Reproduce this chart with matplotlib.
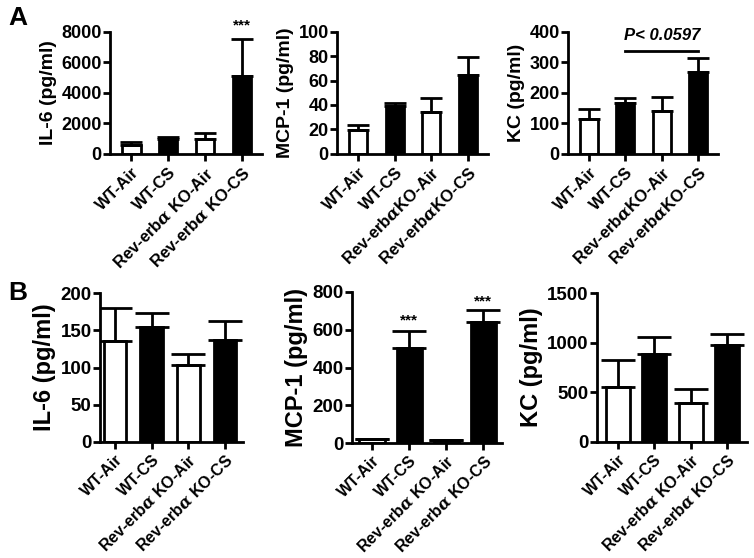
import matplotlib
matplotlib.use("Agg")
import matplotlib.pyplot as plt
import numpy as np

plt.rcParams['font.family'] = ['Liberation Sans', 'DejaVu Sans']
plt.rcParams['font.weight'] = 'bold'
plt.rcParams['mathtext.fontset'] = 'dejavuserif'

# ---------------- data ----------------
groups_a1 = ["WT-Air", "WT-CS", r"Rev-erb$\alpha$ KO-Air", r"Rev-erb$\alpha$ KO-CS"]
groups_a23 = ["WT-Air", "WT-CS", r"Rev-erb$\alpha$KO-Air", r"Rev-erb$\alpha$KO-CS"]
groups_b = ["WT-Air", "WT-CS", r"Rev-erb$\alpha$ KO-Air", r"Rev-erb$\alpha$ KO-CS"]
bar_fill = ["white", "black", "white", "black"]

a_il6 = [570, 950, 970, 5100]
a_il6_err = [190, 110, 360, 2440]
a_mcp1 = [19.4, 38.9, 33.9, 64.4]
a_mcp1_err = [3.9, 2.8, 11.6, 15.3]
a_kc = [115, 167, 139, 269]
a_kc_err = [33, 17, 46, 44]

b_il6 = [135, 154.5, 104, 136.6]
b_il6_err = [45, 19, 13.5, 26]
b_mcp1 = [21, 501, 16, 640]
b_mcp1_err = [2, 92, 2, 65]
b_kc = [556, 887, 395, 975]
b_kc_err = [268, 171, 140, 117]

# ---------------- layout ----------------
W, H = 754, 558
fig = plt.figure(figsize=(W / 100, H / 100), dpi=100)


def px_axes(l, r, t, b):
    return fig.add_axes([l / W, 1 - b / H, (r - l) / W, (b - t) / H])


def draw(ax, labels, vals, errs, ylim, yticks, ylabel, xlim, width, cap,
         ylab_size, tick_size, xlab_size, xpad, stars=None):
    x = np.arange(len(vals))
    ax.bar(x, vals, width=width, color=bar_fill, edgecolor="black", linewidth=2.0, zorder=2)
    ax.errorbar(x, vals, yerr=[np.zeros(len(errs)), errs], fmt="none", ecolor="black",
                elinewidth=2.0, capsize=cap, capthick=2.0, zorder=3)
    ax.set_xlim(*xlim)
    ax.set_ylim(*ylim)
    ax.set_yticks(yticks)
    ax.set_xticks(x)
    ax.set_xticklabels(labels, rotation=45, ha="right", rotation_mode="anchor",
                       fontsize=xlab_size, fontweight="bold")
    ax.tick_params(axis="y", labelsize=tick_size, width=2, length=5, direction="out", pad=1)
    ax.tick_params(axis="x", width=2, length=5, direction="out", pad=xpad)
    for lbl in ax.get_yticklabels():
        lbl.set_fontweight("bold")
    for s in ["top", "right"]:
        ax.spines[s].set_visible(False)
    for s in ["left", "bottom"]:
        ax.spines[s].set_linewidth(2.0)
    ax.set_ylabel(ylabel, fontsize=ylab_size, fontweight="bold", labelpad=3)
    if stars:
        for i, yv in stars:
            ax.text(i, yv, "***", ha="center", va="center", fontsize=11,
                    fontweight="bold", clip_on=False)


ax1 = px_axes(110, 262, 32, 153.5)
draw(ax1, groups_a1, a_il6, a_il6_err, (0, 8000), [0, 2000, 4000, 6000, 8000],
     "IL-6 (pg/ml)", (-0.58, 3.55), 0.5, 8, 14, 13, 12, 3, stars=[(3, 8450)])

ax2 = px_axes(337, 488, 32, 153.5)
draw(ax2, groups_a23, a_mcp1, a_mcp1_err, (0, 100), [0, 20, 40, 60, 80, 100],
     "MCP-1 (pg/ml)", (-0.58, 3.55), 0.5, 8, 14, 13, 12, 3)

ax3 = px_axes(568, 718, 32, 153.5)
draw(ax3, groups_a23, a_kc, a_kc_err, (0, 400), [0, 100, 200, 300, 400],
     "KC (pg/ml)", (-0.58, 3.55), 0.5, 8, 14, 13, 12, 3)
ax3.plot([1, 3], [338, 338], color="black", linewidth=2.0, clip_on=False)
ax3.text(2, 387, "P< 0.0597", ha="center", va="center", fontsize=12,
         fontweight="bold", fontstyle="italic")

bx1 = px_axes(100, 243, 293, 442)
draw(bx1, groups_b, b_il6, b_il6_err, (0, 200), [0, 50, 100, 150, 200],
     "IL-6 (pg/ml)", (-0.41, 3.49), 0.62, 12, 17, 13.5, 11.5, 2)

bx2 = px_axes(352, 502, 292, 443)
draw(bx2, groups_b, b_mcp1, b_mcp1_err, (0, 800), [0, 200, 400, 600, 800],
     "MCP-1 (pg/ml)", (-0.54, 3.5), 0.68, 12, 17, 13.5, 11.5, 2,
     stars=[(1, 648), (3, 750)])

bx3 = px_axes(597, 747, 293, 442)
draw(bx3, groups_b, b_kc, b_kc_err, (0, 1500), [0, 500, 1000, 1500],
     "KC (pg/ml)", (-0.57, 3.55), 0.66, 12, 17, 13.5, 11.5, 2)

fig.text(18 / W, 1 - 18 / H, "A", fontsize=19, fontweight="bold", ha="center", va="center")
fig.text(18 / W, 1 - 293 / H, "B", fontsize=19, fontweight="bold", ha="center", va="center")

fig.savefig("out.png", dpi=100, facecolor="white")
